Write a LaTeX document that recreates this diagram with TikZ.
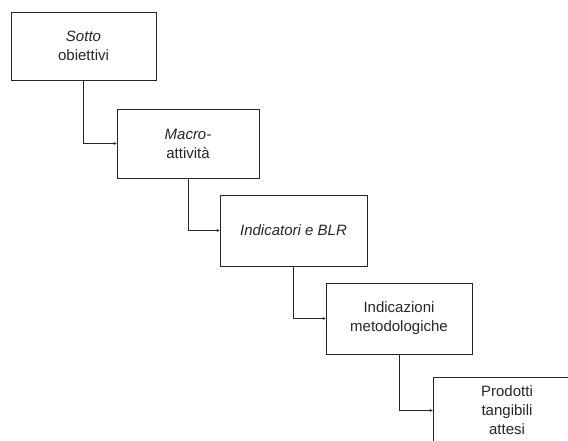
\documentclass[tikz,border=0pt]{standalone}
\usepackage{fontspec}
\setmainfont{Liberation Sans}
\usetikzlibrary{arrows.meta}
\begin{document}
\begin{tikzpicture}[x=1pt,y=-1pt,
  stepbox/.style={draw=black!85, line width=0.7pt, rectangle, align=center,
    inner sep=0pt, text=black!85, font=\fontsize{15}{19}\selectfont},
  link/.style={draw=black!85, line width=0.7pt, -{Stealth[length=3pt,width=3pt]}}]
\useasboundingbox (0,0) rectangle (568,441);
\clip (0,0) rectangle (568,441);
\node[stepbox, minimum width=145pt, minimum height=68pt] (a) at (83.5,46) {\textit{Sotto}\\obiettivi};
\node[stepbox, minimum width=142pt, minimum height=69pt] (b) at (188,143.5) {\textit{Macro-}\\attività};
\node[stepbox, minimum width=147pt, minimum height=71pt] (c) at (293.5,230.5) {\textit{Indicatori e BLR}};
\node[stepbox, minimum width=146pt, minimum height=71pt] (d) at (399,318.5) {Indicazioni\\metodologiche};
\node[stepbox, minimum width=148pt, minimum height=67pt] (e) at (507,410.5) {Prodotti\\tangibili\\attesi};
\draw[link] (a.south) |- (b.west);
\draw[link] (b.south) |- (c.west);
\draw[link] (c.south) |- (d.west);
\draw[link] (d.south) |- (e.west);
\end{tikzpicture}
\end{document}
